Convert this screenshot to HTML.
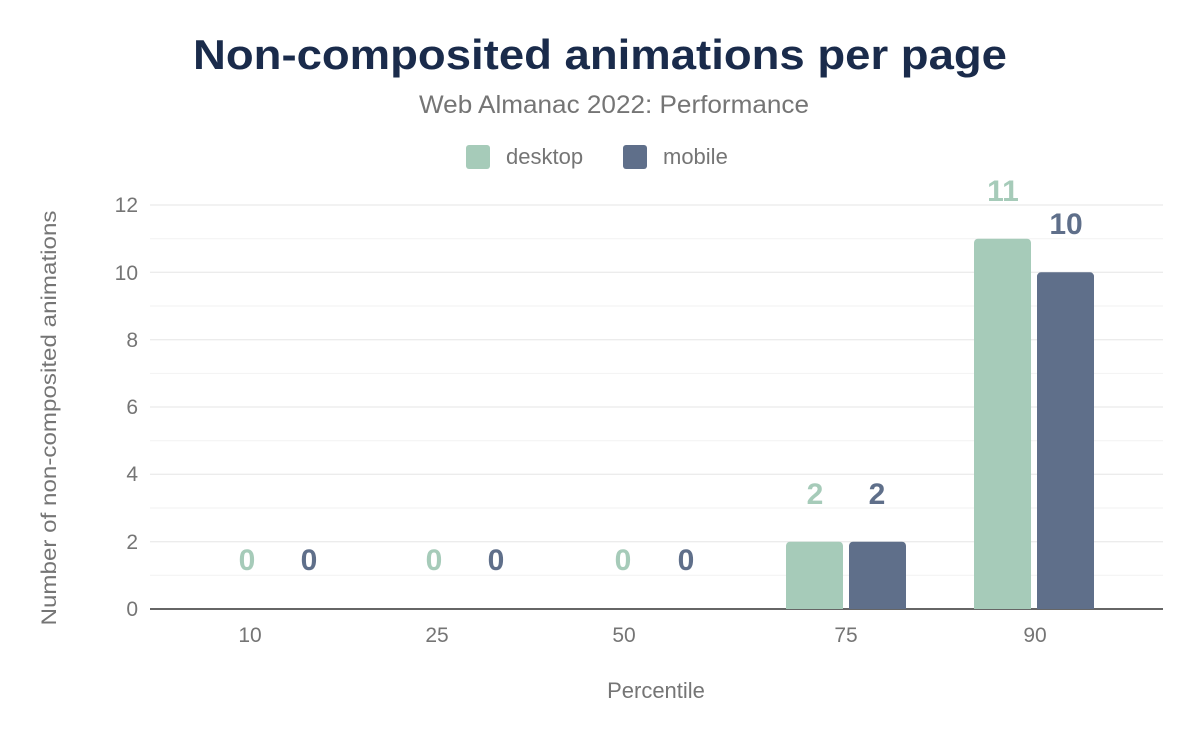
<!DOCTYPE html>
<html><head><meta charset="utf-8"><style>
body{margin:0;background:#fff;}
svg{display:block;font-family:"Liberation Sans",Arial,sans-serif;}
</style></head><body>
<svg width="1200" height="742" viewBox="0 0 1200 742" xmlns="http://www.w3.org/2000/svg">
<rect width="1200" height="742" fill="#fff"/>
<text x="193" y="69" textLength="814" lengthAdjust="spacingAndGlyphs" font-size="42" font-weight="900" fill="#1a2b4b">Non-composited animations per page</text>
<text x="419" y="113" textLength="390" lengthAdjust="spacingAndGlyphs" font-size="25" fill="#757575">Web Almanac 2022: Performance</text>
<rect x="466" y="145" width="24" height="24" rx="3" fill="#a6cbb9"/>
<text x="506" y="164" font-size="22" fill="#757575">desktop</text>
<rect x="623" y="145" width="24" height="24" rx="3" fill="#5f6f8a"/>
<text x="663" y="164" font-size="22" fill="#757575">mobile</text>
<g stroke="#f2f2f2" stroke-width="1">
<line x1="150" x2="1163" y1="238.7" y2="238.7"/><line x1="150" x2="1163" y1="306" y2="306"/>
<line x1="150" x2="1163" y1="373.4" y2="373.4"/><line x1="150" x2="1163" y1="440.7" y2="440.7"/>
<line x1="150" x2="1163" y1="508" y2="508"/><line x1="150" x2="1163" y1="575.3" y2="575.3"/>
</g>
<g stroke="#e6e6e6" stroke-width="1">
<line x1="150" x2="1163" y1="205" y2="205"/><line x1="150" x2="1163" y1="272.3" y2="272.3"/>
<line x1="150" x2="1163" y1="339.7" y2="339.7"/><line x1="150" x2="1163" y1="407" y2="407"/>
<line x1="150" x2="1163" y1="474.3" y2="474.3"/><line x1="150" x2="1163" y1="541.7" y2="541.7"/>
</g>
<line x1="150" x2="1163" y1="609" y2="609" stroke="#333" stroke-width="1.5"/>
<g font-size="21" fill="#757575" text-anchor="end">
<text x="138" y="616">0</text><text x="138" y="549">2</text><text x="138" y="481">4</text>
<text x="138" y="414">6</text><text x="138" y="347">8</text><text x="138" y="280">10</text><text x="138" y="212">12</text>
</g>
<g font-size="21" fill="#757575" text-anchor="middle">
<text x="250" y="642">10</text><text x="437" y="642">25</text><text x="624" y="642">50</text>
<text x="846" y="642">75</text><text x="1035" y="642">90</text>
</g>
<text x="656" y="698" text-anchor="middle" font-size="22" fill="#757575">Percentile</text>
<text transform="translate(56,418) rotate(-90)" text-anchor="middle" textLength="415" lengthAdjust="spacingAndGlyphs" font-size="21" fill="#757575">Number of non-composited animations</text>
<path d="M786 609V545.7a4 4 0 0 1 4-4h49a4 4 0 0 1 4 4V609Z" fill="#a6cbb9"/>
<path d="M849 609V545.7a4 4 0 0 1 4-4h49a4 4 0 0 1 4 4V609Z" fill="#5f6f8a"/>
<path d="M974 609V242.7a4 4 0 0 1 4-4h49a4 4 0 0 1 4 4V609Z" fill="#a6cbb9"/>
<path d="M1037 609V276.3a4 4 0 0 1 4-4h49a4 4 0 0 1 4 4V609Z" fill="#5f6f8a"/>
<g font-size="30" font-weight="bold" text-anchor="middle">
<text x="247" y="570" fill="#a6cbb9">0</text><text x="309" y="570" fill="#5f6f8a">0</text>
<text x="434" y="570" fill="#a6cbb9">0</text><text x="496" y="570" fill="#5f6f8a">0</text>
<text x="623" y="570" fill="#a6cbb9">0</text><text x="686" y="570" fill="#5f6f8a">0</text>
<text x="815" y="504" fill="#a6cbb9">2</text><text x="877" y="504" fill="#5f6f8a">2</text>
<text x="1003" y="201" fill="#a6cbb9">11</text><text x="1066" y="234" fill="#5f6f8a">10</text>
</g>
</svg>
</body></html>
